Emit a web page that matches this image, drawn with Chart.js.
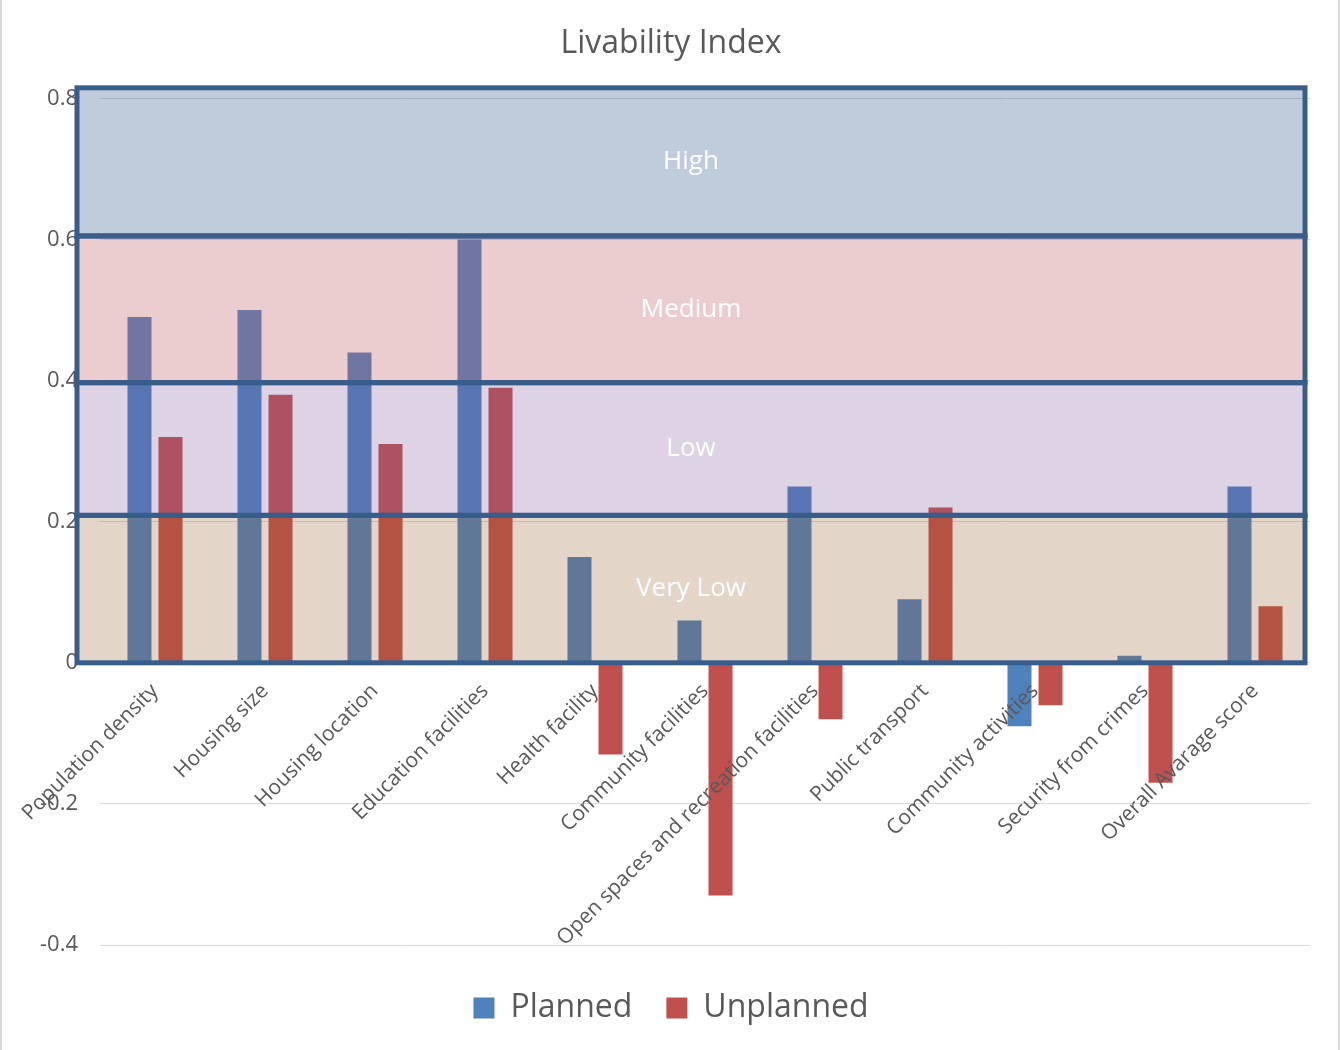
<!DOCTYPE html>
<html>
<head>
<meta charset="utf-8">
<script src="https://cdn.jsdelivr.net/npm/chart.js@4"></script>
<style>
  html, body { margin: 0; padding: 0; background: #fff; }
  #wrap { width: 1340px; height: 1050px; box-sizing: border-box; border-left: 2px solid #d9d9d9; border-right: 2px solid #d9d9d9; }
  canvas { display: block; }
</style>
</head>
<body>
<div id="wrap"><canvas id="myChart" width="1336" height="1050"></canvas></div>
<script>
var categories = ["Population density", "Housing size", "Housing location", "Education facilities",
  "Health facility", "Community facilities", "Open spaces and recreation facilities",
  "Public transport", "Community activities", "Security from crimes", "Overall Avarage score"];
var planned = [0.49, 0.50, 0.44, 0.60, 0.15, 0.06, 0.25, 0.09, -0.09, 0.01, 0.25];
var unplanned = [0.32, 0.38, 0.31, 0.39, -0.13, -0.33, -0.08, 0.22, -0.06, -0.17, 0.08];
var yTicks = [-0.4, -0.2, 0, 0.2, 0.4, 0.6, 0.8];

// livability bands drawn over the bars
var bandNames = ["Very Low", "Low", "Medium", "High"];
var bandFrom = [0, 0.209, 0.397, 0.605];
var bandTo = [0.209, 0.397, 0.605, 0.815];
var bandFill = ["rgba(147,93,43,0.26)", "rgba(124,86,155,0.26)", "rgba(192,88,95,0.3)", "rgba(45,85,135,0.3)"];

Chart.defaults.font.family = "'Open Sans', sans-serif";
Chart.defaults.color = "#595959";

var bands = {
  id: "bands",
  afterDatasetsDraw: function(chart) {
    var c = chart.ctx, area = chart.chartArea, y = chart.scales.y;
    var left = area.left - 23, right = area.right - 5;
    c.save();
    for (var i = 0; i < bandNames.length; i++) {
      var top = y.getPixelForValue(bandTo[i]), bot = y.getPixelForValue(bandFrom[i]);
      c.fillStyle = bandFill[i];
      c.fillRect(left, top, right - left, bot - top);
    }
    c.lineWidth = 5;
    c.strokeStyle = "#385D8A";
    c.fillStyle = "#ffffff";
    c.font = "26px 'Open Sans', sans-serif";
    c.textAlign = "center";
    c.textBaseline = "middle";
    for (var j = 0; j < bandNames.length; j++) {
      var t = y.getPixelForValue(bandTo[j]), b = y.getPixelForValue(bandFrom[j]);
      c.strokeRect(left, t, right - left, b - t);
      c.fillText(bandNames[j], (left + right) / 2, (t + b) / 2);
    }
    c.restore();
  }
};

var ctx = document.getElementById("myChart");

var myChart = new Chart(ctx, {
  type: "bar",
  data: {
    labels: categories,
    datasets: [{
      label: "Planned",
      data: planned,
      backgroundColor: "#4F81BD",
      borderWidth: 0,
      categoryPercentage: 0.564,
      barPercentage: 0.774
    }, {
      label: "Unplanned",
      data: unplanned,
      backgroundColor: "#C0504D",
      borderWidth: 0,
      categoryPercentage: 0.564,
      barPercentage: 0.774
    }]
  },
  options: {
    responsive: false,
    devicePixelRatio: 1,
    animation: false,
    layout: { padding: { left: 30, right: 28, top: 0, bottom: 16 } },
    plugins: {
      title: {
        display: true,
        text: "Livability Index",
        font: { size: 32, weight: "normal" },
        color: "#595959",
        padding: { top: 25, bottom: 35 }
      },
      legend: {
        position: "bottom",
        // empty legend title only adds room above the items
        title: { display: true, text: " ", font: { size: 12, lineHeight: 1 }, padding: { top: 1, bottom: 0 } },
        labels: { boxWidth: 21, boxHeight: 21, padding: 34, font: { size: 32 }, color: "#595959" }
      },
      tooltip: { enabled: false }
    },
    scales: {
      x: {
        position: { y: 0 },
        offset: true,
        grid: { display: false, drawTicks: false },
        border: { display: false },
        // z: 1 puts the category labels on top of the bars
        ticks: { z: 1, autoSkip: false, maxRotation: 45, minRotation: 45, padding: 16, font: { size: 21 }, color: "#595959" },
        afterFit: function(s) { s.height = 0; s.paddingLeft = 0; s.paddingRight = 0; }
      },
      y: {
        min: -0.4,
        max: 0.8,
        grid: { color: "#D9D9D9", drawTicks: false },
        border: { display: false },
        ticks: { padding: 22, font: { size: 22 }, color: "#595959" },
        afterBuildTicks: function(s) { s.ticks = yTicks.map(function(v) { return { value: v }; }); },
        afterFit: function(s) { s.width = 68; }
      }
    }
  },
  plugins: [bands]
});
</script>
</body>
</html>
